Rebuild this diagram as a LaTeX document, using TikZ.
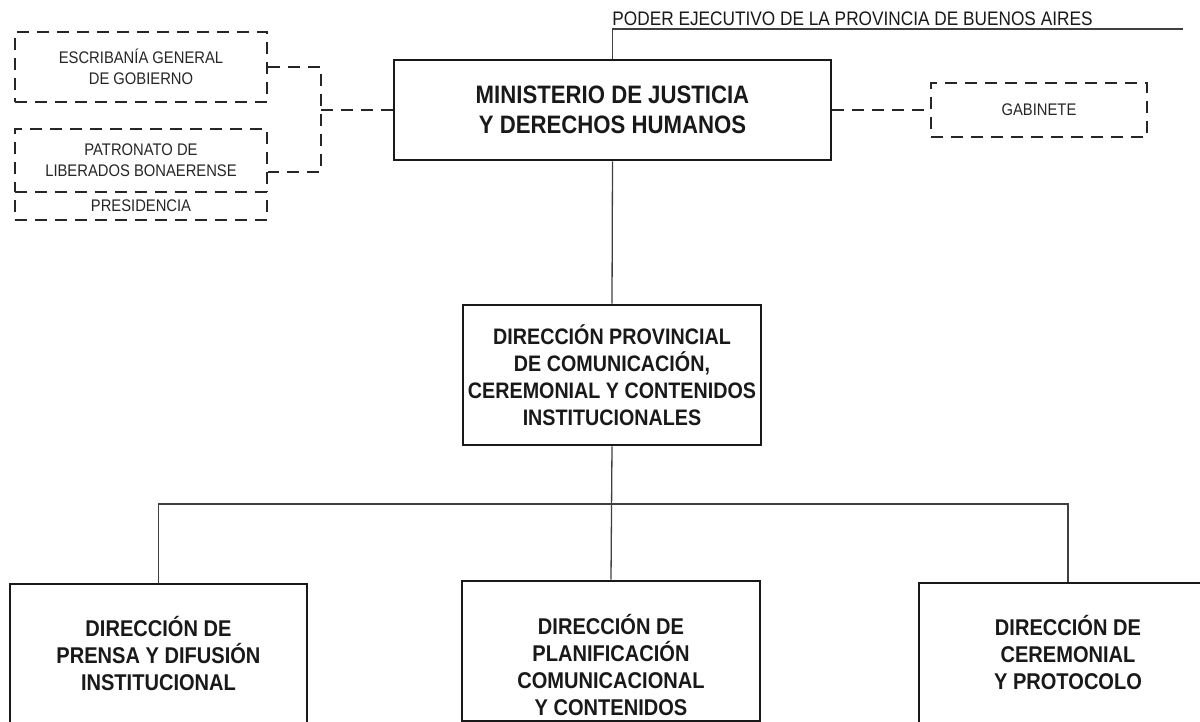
\documentclass[tikz,border=0pt]{standalone}
\usepackage{fontspec}
\setmainfont{Liberation Sans}[FakeStretch=0.88]
\tikzset{
	unitbox/.style={draw=black!90, line width=1.35pt, inner sep=0pt, align=center, text=black!90},
	sidebox/.style={draw=black!85, line width=1.35pt, dash pattern=on 6pt off 4pt, inner sep=0pt, align=center, text=black!85, font=\fontsize{8.4}{10.5}\selectfont},
	link/.style={draw=black!75, line width=0.65pt},
	dashlink/.style={draw=black!85, line width=1.35pt, dash pattern=on 6pt off 4pt},
}

\begin{document}
\begin{tikzpicture}[x=0.5pt, y=-0.5pt]
		%%%%% START %%%%%
		\useasboundingbox (0, 0) rectangle (1200, 722);
		
		\node[unitbox, minimum width=218.5pt, minimum height=50pt, font=\bfseries\fontsize{12.6}{15}\selectfont] (min) at (612.5, 110) {MINISTERIO DE JUSTICIA\\Y DERECHOS HUMANOS};
		\node[sidebox, minimum width=108pt, minimum height=27pt] (gab) at (1039, 110) {GABINETE};
		
		\node[sidebox, minimum width=126pt, minimum height=35pt] (esc) at (141, 67) {ESCRIBANÍA GENERAL\\DE GOBIERNO};
		\node[sidebox, minimum width=126pt, minimum height=31.5pt] (pat) at (141, 160.5) {PATRONATO DE\\LIBERADOS BONAERENSE};
		\node[sidebox, minimum width=126pt, minimum height=14pt] (pres) at (141, 206) {PRESIDENCIA};
		
		\node[unitbox, minimum width=149pt, minimum height=70pt, font=\bfseries\fontsize{11.2}{13.5}\selectfont] (dp) at (612, 375) {DIRECCIÓN PROVINCIAL\\DE COMUNICACIÓN,\\CEREMONIAL Y CONTENIDOS\\INSTITUCIONALES};
		
		\node[unitbox, minimum width=148.5pt, minimum height=70pt, font=\bfseries\fontsize{11.4}{13.5}\selectfont] (dpren) at (158.5, 654) {DIRECCIÓN DE\\PRENSA Y DIFUSIÓN\\INSTITUCIONAL};
		\node[unitbox, minimum width=149pt, minimum height=70pt, font=\bfseries\fontsize{11.4}{13.5}\selectfont] (dplan) at (611, 651) {\strut\\DIRECCIÓN DE\\PLANIFICACIÓN\\COMUNICACIONAL\\Y CONTENIDOS};
		\node[unitbox, minimum width=149pt, minimum height=70pt, font=\bfseries\fontsize{11.4}{13.5}\selectfont] (dcer) at (1068, 653) {DIRECCIÓN DE\\CEREMONIAL\\Y PROTOCOLO};
		
		%%%%% poder ejecutivo %%%%%
		\coordinate (pe) at (1183, 29);
		\draw[link] (min.north) |- (pe);
		\node[anchor=base west, inner sep=0pt, text=black!90, font=\fontsize{9.8}{11}\selectfont] (petxt) at (612, 26) {PODER EJECUTIVO DE LA PROVINCIA DE BUENOS AIRES};
		
		%%%%% dependencias %%%%%
		\coordinate (jn) at (321, 110);
		\draw[dashlink] (esc.east) -| (jn) |- (pat.east |- 0, 172);
		\draw[dashlink] (jn) -- (min.west);
		\draw[dashlink] (min.east) -- (gab.west);
		
		%%%%% estructura %%%%%
		\coordinate (bus) at (611, 504);
		\draw[link] (min.south) -- (dp.north);
		\draw[link] (dp.south) -- (dplan.north);
		\draw[link] (dpren.north) -- (dpren.north |- bus) -- (dcer.north |- bus) -- (dcer.north);
		
		%%%%% END %%%%%
	\end{tikzpicture}
\end{document}
